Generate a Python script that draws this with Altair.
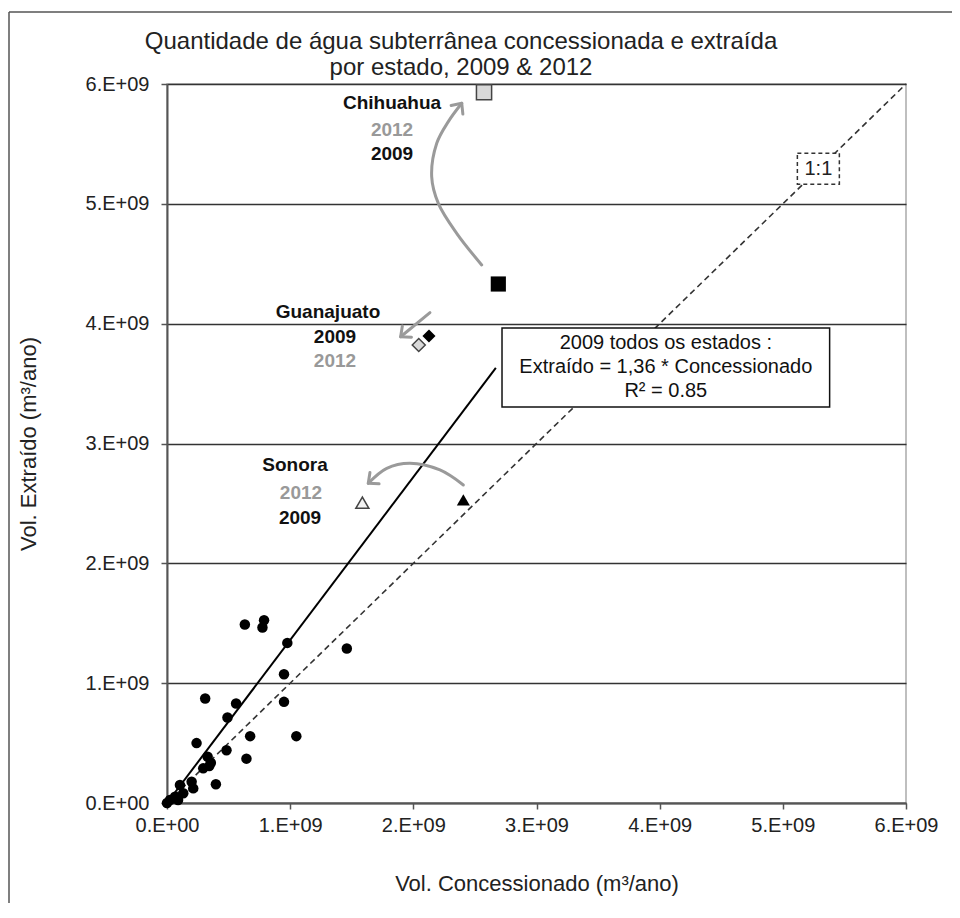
import altair as alt
import pandas as pd

# ---- data (values in units of 1E9 m3/ano) ----
conc_2009 = [0.632, 0.788, 0.775, 0.977, 1.46, 0.95, 0.31, 0.561, 0.95, 0.491, 0.675, 1.05,
             0.24, 0.483, 0.645, 0.33, 0.356, 0.294, 0.343, 0.397, 0.2, 0.213, 0.105, 0.132,
             0.065, 0.024, 0.0, 0.09]
extr_2009 = [1.49, 1.525, 1.464, 1.336, 1.289, 1.075, 0.872, 0.83, 0.844, 0.714, 0.558, 0.558,
             0.5, 0.44, 0.37, 0.386, 0.336, 0.289, 0.308, 0.156, 0.178, 0.122, 0.15, 0.081,
             0.053, 0.025, 0.0, 0.025]

states = ["Chihuahua", "Guanajuato", "Sonora"]
shapes = ["square", "diamond", "triangle-up"]
sizes = [230, 170, 170]
hl_conc_2009 = [2.69, 2.127, 2.406]
hl_extr_2009 = [4.331, 3.897, 2.529]
hl_conc_2012 = [2.574, 2.044, 1.586]
hl_extr_2012 = [5.931, 3.822, 2.506]
hl_fill_2012 = ["#d9d9d9", "#d9d9d9", "#f2f2f2"]

slope = 1.36
fit_x = [0.0, 2.67]
one_x = [0.0, 6.0]

ticks = [0, 1, 2, 3, 4, 5, 6]

title_lines = ["Quantidade de água subterrânea concessionada e extraída", "por estado, 2009 & 2012"]

eq_lines = ["2009 todos os estados :", "Extraído = 1,36 * Concessionado", "R² = 0.85"]
eq_box_x = [2.72, 5.38]
eq_box_y = [3.305, 3.964]
eq_text_x = 4.05
eq_text_y = [3.839, 3.638, 3.438]

one_box_x = [5.118, 5.459]
one_box_y = [5.164, 5.422]
one_label = "1:1"

# annotation labels
lab_text = ["Chihuahua", "2012", "2009", "Guanajuato", "2009", "2012", "Sonora", "2012", "2009"]
lab_x = [1.827, 1.827, 1.827, 1.307, 1.364, 1.364, 1.039, 1.088, 1.08]
lab_y = [5.84, 5.616, 5.413, 4.097, 3.889, 3.689, 2.821, 2.587, 2.378]
lab_col = ["#111", "#999", "#111", "#111", "#111", "#999", "#111", "#999", "#111"]

# arrows (path points)
arrow_id = [0] * 7 + [1] * 2 + [2] * 5
arrow_x = [2.555, 2.352, 2.203, 2.149, 2.190, 2.284, 2.393,
           2.135, 1.897,
           2.406, 2.216, 1.973, 1.784, 1.634]
arrow_y = [4.49, 4.754, 5.004, 5.227, 5.505, 5.686, 5.839,
           4.092, 3.891,
           2.654, 2.779, 2.835, 2.793, 2.668]
head_x = [2.393, 1.897, 1.634]
head_y = [5.839, 3.891, 2.668]
head_angle = [306, 141, 141]

FONT = "Liberation Sans"
label_expr = "datum.value == 0 ? '0.E+00' : datum.value + '.E+09'"
scale_x = alt.Scale(domain=[0, 6], nice=False, zero=True)
scale_y = alt.Scale(domain=[0, 6], nice=False, zero=True)

x_axis = alt.Axis(values=ticks, labelExpr=label_expr, grid=False, tickSize=6, labelPadding=6,
                  labelFontSize=20, labelFlush=False, labelOverlap=False, labelColor="#222",
                  title="Vol. Concessionado (m³/ano)", titleFontSize=22, titleFontWeight="normal",
                  titleColor="#222", titleY=80, titleBaseline="middle",
                  domainColor="#555", domainWidth=2, tickColor="#555", tickWidth=1.5)
y_axis = alt.Axis(values=ticks, labelExpr=label_expr, grid=True, gridColor="#333", gridWidth=1.5,
                  tickSize=6, labelPadding=12, labelFontSize=20, labelOverlap=False, labelColor="#222",
                  labelFlush=False,
                  title="Vol. Extraído (m³/ano)", titleFontSize=22, titleFontWeight="normal",
                  titleColor="#222", titleX=-139, titleY=359.5, titleAngle=-90,
                  titleBaseline="middle", titleAlign="center",
                  domainColor="#555", domainWidth=2, tickColor="#555", tickWidth=1.5)


def X(field="x"):
    return alt.X(f"{field}:Q", scale=scale_x, axis=x_axis)


def Y(field="y"):
    return alt.Y(f"{field}:Q", scale=scale_y, axis=y_axis)


one_row = pd.DataFrame({"a": [0]})

# ---- layers ----
frame_top = alt.Chart(one_row).mark_rule(color="#555", strokeWidth=1.5).encode(
    x=alt.value(-158), x2=alt.value(800), y=alt.value(-72))
frame_left = alt.Chart(one_row).mark_rule(color="#555", strokeWidth=1.5).encode(
    x=alt.value(-158), y=alt.value(-72), y2=alt.value(850))

title1 = alt.Chart(pd.DataFrame({"t": [title_lines[0]]})).mark_text(
    font=FONT, fontSize=24, color="#222", align="center", baseline="middle"
).encode(x=alt.value(294), y=alt.value(-42), text="t:N")
title2 = alt.Chart(pd.DataFrame({"t": [title_lines[1]]})).mark_text(
    font=FONT, fontSize=24, color="#222", align="center", baseline="middle"
).encode(x=alt.value(294), y=alt.value(-16), text="t:N")

one_df = pd.DataFrame({"x": one_x, "y": one_x})
one_line = alt.Chart(one_df).mark_line(color="#333", strokeWidth=1.6, strokeDash=[6, 4]).encode(
    x=X(), y=Y())

fit_df = pd.DataFrame({"x": fit_x, "y": [v * slope for v in fit_x]})
fit_line = alt.Chart(fit_df).mark_line(color="#000", strokeWidth=2).encode(x=X(), y=Y())

pts_df = pd.DataFrame({"x": conc_2009, "y": extr_2009})
pts = alt.Chart(pts_df).mark_point(filled=True, shape="circle", size=110, color="#000", opacity=1).encode(
    x=X(), y=Y())

hl_frames = []
for i, s in enumerate(states):
    d09 = pd.DataFrame({"x": [hl_conc_2009[i]], "y": [hl_extr_2009[i]]})
    d12 = pd.DataFrame({"x": [hl_conc_2012[i]], "y": [hl_extr_2012[i]]})
    hl_frames.append(alt.Chart(d09).mark_point(shape=shapes[i], size=sizes[i], filled=True,
                                               color="#000", opacity=1).encode(x=X(), y=Y()))
    hl_frames.append(alt.Chart(d12).mark_point(shape=shapes[i], size=sizes[i], filled=True,
                                               fill=hl_fill_2012[i], stroke="#444", strokeWidth=1.5,
                                               opacity=1).encode(x=X(), y=Y()))

arrow_df = pd.DataFrame({"x": arrow_x, "y": arrow_y, "id": arrow_id, "i": list(range(len(arrow_x)))})
arrows = alt.Chart(arrow_df).mark_line(color="#9a9a9a", strokeWidth=3, interpolate="catmull-rom",
                                       strokeCap="round").encode(
    x=X(), y=Y(), detail="id:N", order="i:Q")
head_df = pd.DataFrame({"x": head_x, "y": head_y, "ang": head_angle})
heads = alt.Chart(head_df).mark_point(shape="M -1 -0.9 L 0 0 L -1 0.9", size=260, filled=False,
                                      color="#9a9a9a", strokeWidth=3, opacity=1,
                                      strokeCap="round", strokeJoin="round").encode(
    x=X(), y=Y(), angle=alt.Angle("ang:Q", scale=None))

eq_box_df = pd.DataFrame({"x": [eq_box_x[0]], "x2": [eq_box_x[1]], "y": [eq_box_y[0]], "y2": [eq_box_y[1]]})
eq_box = alt.Chart(eq_box_df).mark_rect(fill="white", stroke="#111", strokeWidth=1.5).encode(
    x=X(), x2="x2:Q", y=Y(), y2="y2:Q")
eq_df = pd.DataFrame({"x": [eq_text_x] * 3, "y": eq_text_y, "t": eq_lines})
eq_text = alt.Chart(eq_df).mark_text(font=FONT, fontSize=20, color="#111", align="center",
                                     baseline="middle").encode(x=X(), y=Y(), text="t:N")

one_box_df = pd.DataFrame({"x": [one_box_x[0]], "x2": [one_box_x[1]], "y": [one_box_y[0]], "y2": [one_box_y[1]]})
one_box = alt.Chart(one_box_df).mark_rect(fill="white", stroke="#333", strokeWidth=1.5,
                                          strokeDash=[4, 3]).encode(x=X(), x2="x2:Q", y=Y(), y2="y2:Q")
one_df2 = pd.DataFrame({"x": [sum(one_box_x) / 2], "y": [sum(one_box_y) / 2], "t": [one_label]})
one_text = alt.Chart(one_df2).mark_text(font=FONT, fontSize=20, color="#222", align="center",
                                        baseline="middle").encode(x=X(), y=Y(), text="t:N")

lab_df = pd.DataFrame({"x": lab_x, "y": lab_y, "t": lab_text, "c": lab_col})
labels = alt.Chart(lab_df).mark_text(font=FONT, fontSize=19, fontWeight="bold", align="center",
                                     baseline="middle").encode(
    x=X(), y=Y(), text="t:N", color=alt.Color("c:N", scale=None))

chart = alt.layer(
    frame_top, frame_left, title1, title2, one_line, fit_line, eq_box, eq_text, one_box, one_text,
    arrows, heads, pts, *hl_frames, labels
).properties(
    width=739, height=719,
    autosize=alt.AutoSizeParams(type="none"),
    padding={"left": 159, "top": 76, "right": 46, "bottom": 100},
).configure(
    font=FONT, background="white"
).configure_view(
    stroke="#aaa", strokeWidth=1.5
)

chart.save("out.html", embed_options={"renderer": "svg", "actions": False})
